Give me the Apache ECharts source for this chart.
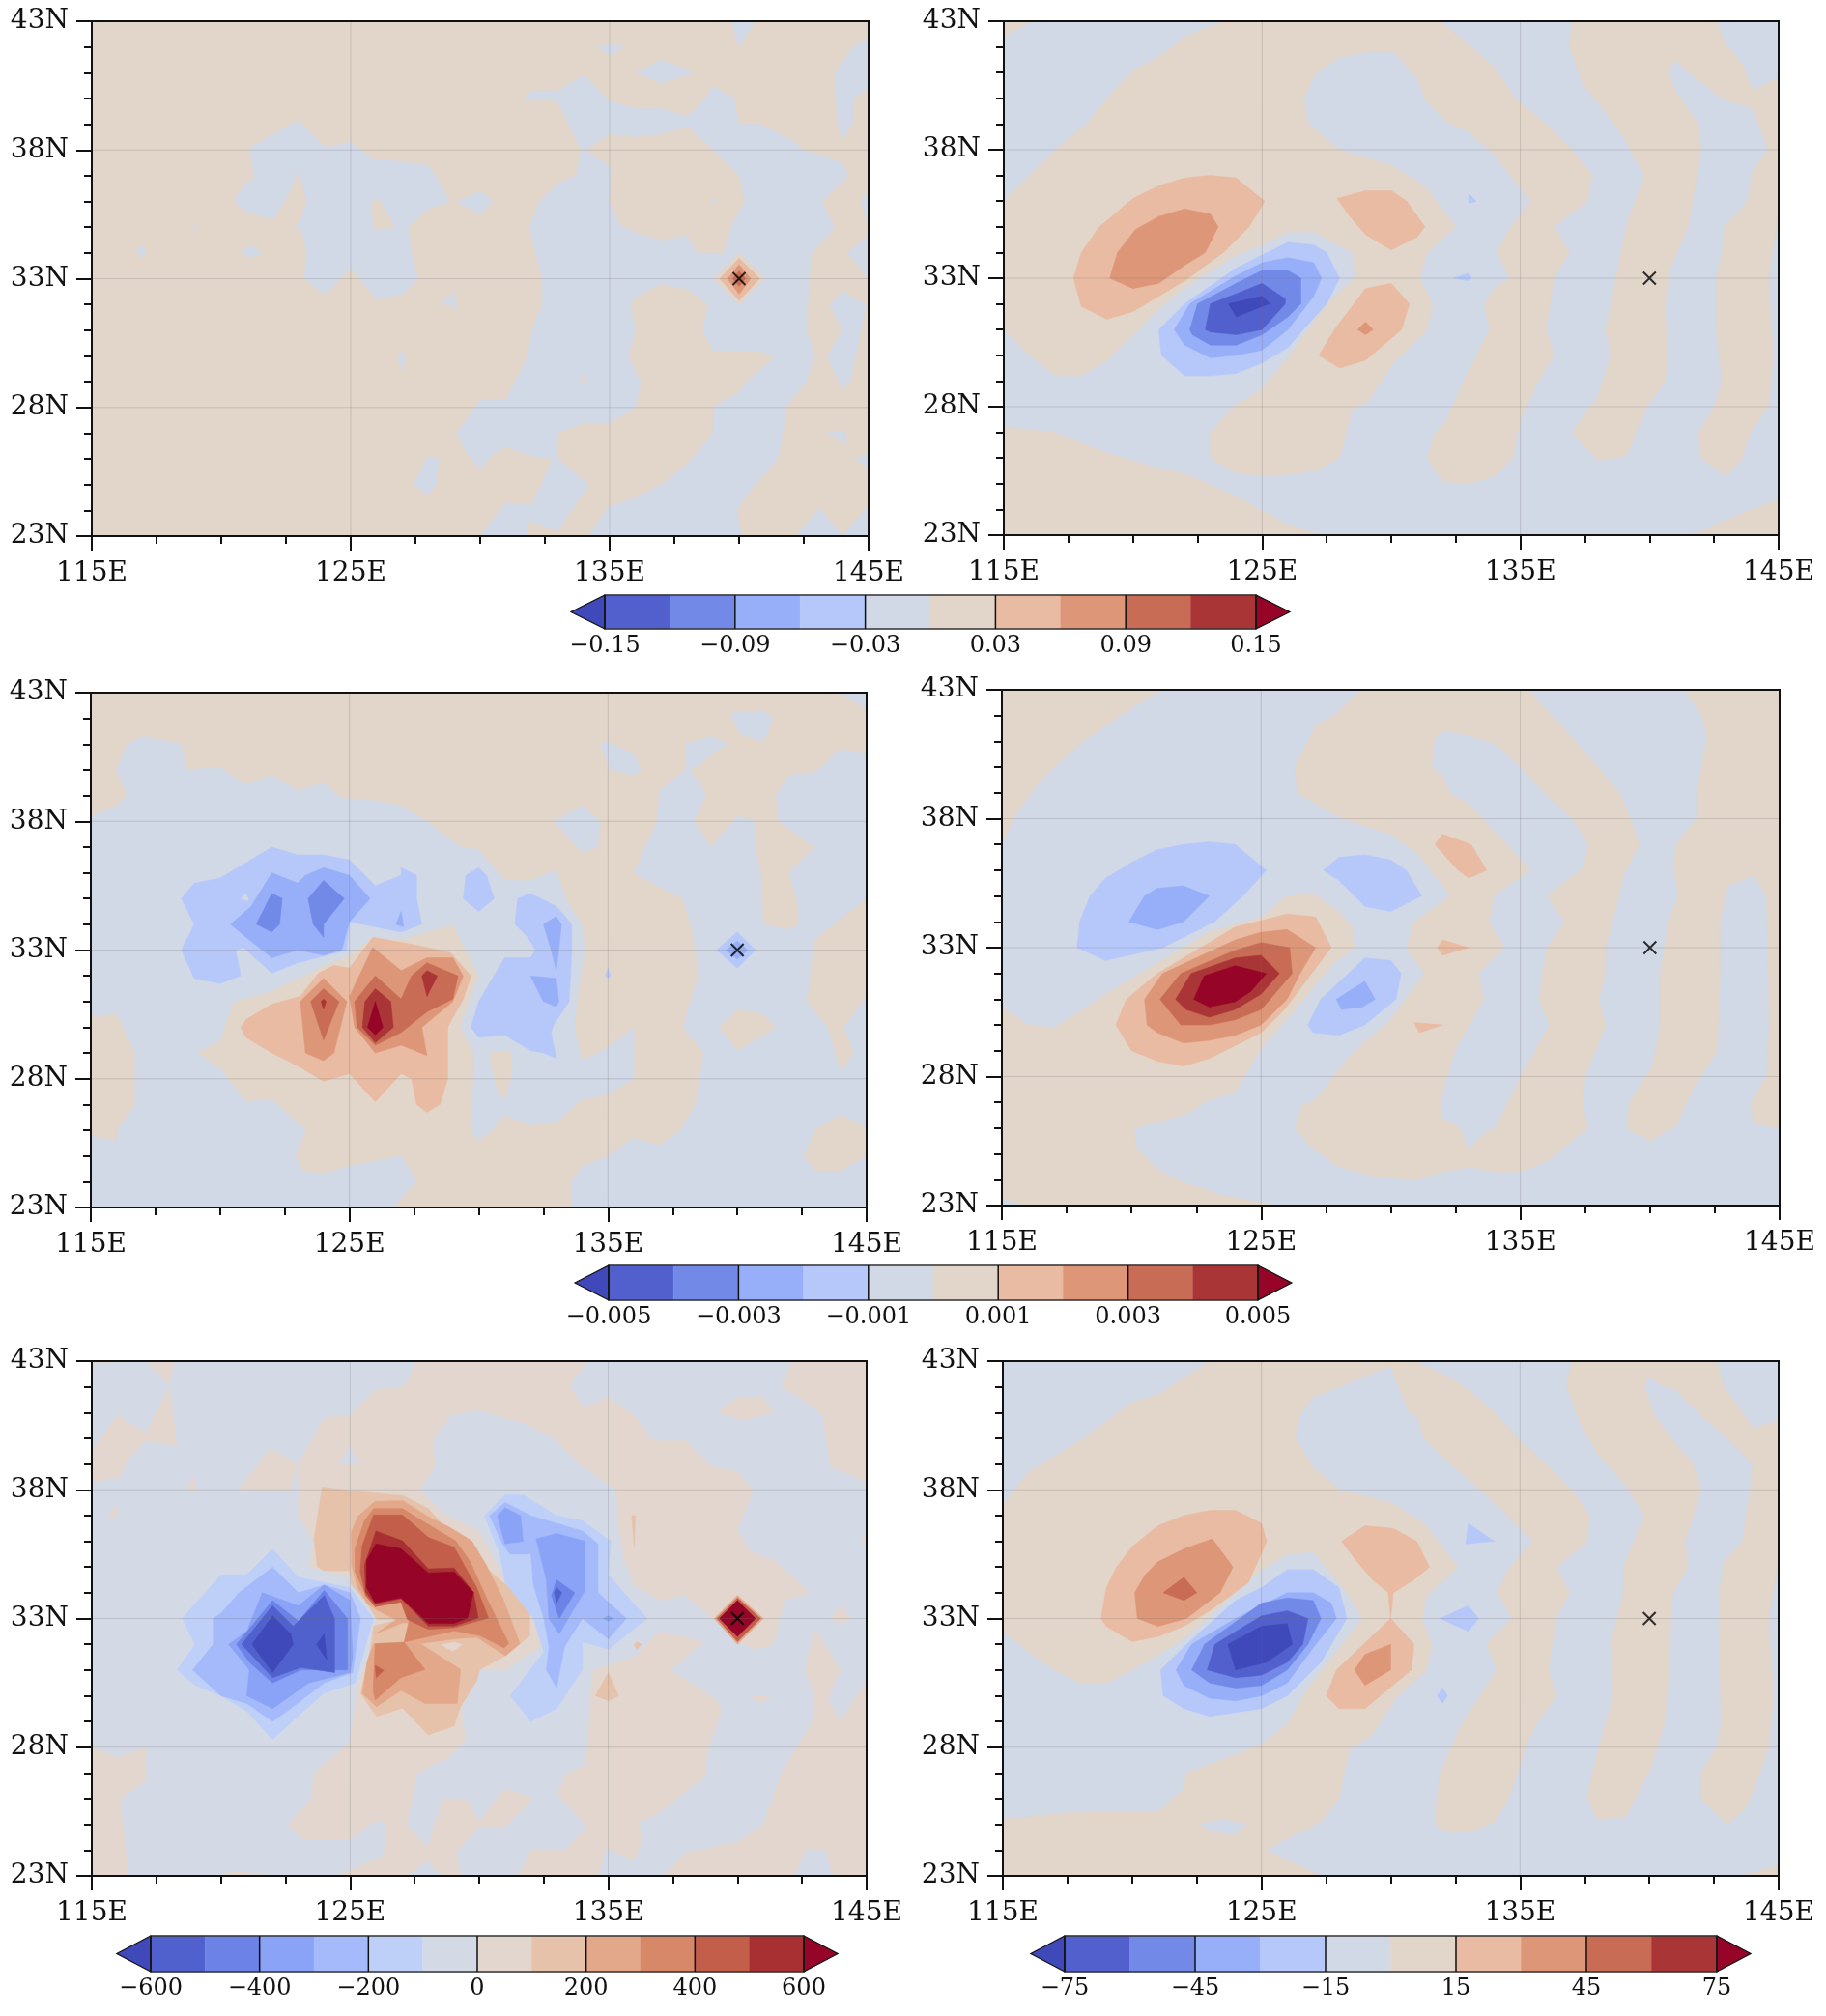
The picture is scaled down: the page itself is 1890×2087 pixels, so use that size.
<!DOCTYPE html>
<html>
<head>
<meta charset="utf-8">
<script src="https://cdn.jsdelivr.net/npm/echarts@6/dist/echarts.min.js"></script>
<style>
html, body { margin: 0; padding: 0; background: #fff; }
#chart { width: 1890px; height: 2087px; }
</style>
</head>
<body>
<div id="chart"></div>
<script>
// tick values of the maps
const lonMajor = [115, 125, 135, 145];
const latMajor = [23, 28, 33, 38, 43];
const markLon = 140;
const markLat = 33;

// colourbar levels and labels
const levels1 = [-0.15, -0.12, -0.09, -0.06, -0.03, 0, 0.03, 0.06, 0.09, 0.12, 0.15];
const ticks1 = [-0.15, -0.09, -0.03, 0.03, 0.09, 0.15];
const levels2 = [-0.005, -0.004, -0.003, -0.002, -0.001, 0, 0.001, 0.002, 0.003, 0.004, 0.005];
const ticks2 = [-0.005, -0.003, -0.001, 0.001, 0.003, 0.005];
const levels3 = [-600, -500, -400, -300, -200, -100, 0, 100, 200, 300, 400, 500, 600];
const ticks3 = [-600, -400, -200, 0, 200, 400, 600];
const levels4 = [-75, -60, -45, -30, -15, 0, 15, 30, 45, 60, 75];
const ticks4 = [-75, -45, -15, 15, 45, 75];

// filled contour colours, first and last are the two extend ends
const colours10 = ['#4049b9', '#5260ce', '#7389e8', '#97aef8', '#b6c8fa', '#d1d8e6', '#e2d5c9', '#e9bba2', '#dd9678', '#c86c55', '#aa3537', '#960527'];
const colours12 = ['#4049b9', '#5060cc', '#6d82e6', '#8aa3f6', '#a5bafb', '#bfd0f8', '#d3dae6', '#e2d6ce', '#e7c2aa', '#e3a88a', '#d68868', '#c25e4a', '#a83032', '#960527'];

// contour bands: colour index, then lon,lat pairs
const panel1Rings = [
    [6, 115,23, 145,23, 145,43, 115,43],
    [5, 123,39.15, 121.1,38.1, 121.3,36.9, 120.9,36.7, 120.5,36, 121,35.6, 122,35.3, 122.5,36.1, 123,37.2, 123.3,36, 123,35.1, 122.8,35, 123.1,34.9, 123.3,34, 123.2,33, 124,32.4, 125,33.4, 126,32.2, 127,32.4, 127.6,33, 127.4,33.8, 127.2,35, 128,35.7, 128.8,36, 128.3,37, 128,37.4, 126.5,37.6, 125.9,37.6, 125,38.3, 124,38.1],
    [6, 125.8,36, 126.1,36.1, 126.7,35, 125.9,34.9],
    [5, 129.1,36, 130,36.4, 130.5,36, 130,35.5],
    [5, 118.9,35, 119,35.1, 119.1,35, 119,34.9],
    [5, 116.7,34.1, 117,34.3, 117.1,33.9, 116.9,33.8],
    [5, 120.8,34, 121.1,34.3, 121.6,34, 121.1,33.8],
    [5, 128.5,32, 129,32.5, 129.1,31.8, 128.8,32],
    [5, 126.8,30, 127,30.2, 127.1,29.9, 127,29.4],
    [5, 127.4,25, 128,26.1, 128.4,26, 128.3,25, 128,24.6],
    [5, 139.7,43, 140,42, 140.6,43],
    [5, 134.5,42, 135,42.1, 135.6,42, 135,41.7],
    [5, 136,41, 137,41.5, 138.3,41, 137,40.6],
    [5, 145,42.4, 144.4,42, 143.7,41, 143.8,39.1, 144,38.4, 144.4,39.1, 144.4,40, 145,40.4],
    [5, 131.7,40, 132,40.3, 133,40.3, 134,40.9, 135,39.9, 136,39.6, 137,39.6, 138,39.3, 138.7,40, 139,40.5, 139.8,40, 140,39, 140.8,39, 142,38.4, 142.5,38, 144,37.5, 144.2,37, 143.2,36, 143.7,35, 142.8,34, 142.7,33, 142.6,31, 142.9,30, 142.6,29, 141.8,28, 141.7,27, 141.5,26, 140.6,25, 139.9,24, 140.1,23, 134.2,23, 134.9,24.1, 136,24.5, 137,25, 138,25.8, 139,27, 139,28, 140,28.6, 140.3,29, 141.4,30, 140.7,30.2, 139,30.2, 138.6,31, 138.8,32, 138,32.6, 137,32.8, 136,32.3, 135.8,32, 136,31, 135.7,30, 136.2,29, 136,28, 135,27.4, 134,27.4, 133,27, 133,26, 134.2,25, 133,23.2, 131.8,23.6, 131.8,23, 130,23, 131,24.3, 132,24.2, 132.8,26, 132,26.1, 131,26.5, 130.4,26.1, 130,25.6, 129.5,26.2, 129.1,27, 130,28.3, 131,28.3, 131.8,29.9, 132,31, 132.4,32, 132.4,33, 131.9,35, 132.3,36, 133,36.7, 133.7,37, 133.9,38, 133,39.9],
    [6, 134.1,38, 135,38.6, 136,38.5, 137,38.6, 138,38.9, 139,38, 140,37, 140.2,36, 139.7,35.1, 139.4,34, 138.9,34, 138.4,34, 138,34.7, 137,34.5, 136,34.8, 135.4,35.1, 135,36, 135.1,37.3],
    [5, 138.9,36, 139,36.15, 139.1,36, 139,35.9],
    [6, 133.9,29, 134,29.3, 134.1,29, 134,28.9],
    [5, 143.5,32, 144,32.5, 144.9,32, 144.3,29, 144,28.7, 143.4,30, 144,31],
    [5, 144.2,34, 145,34.7, 145,33],
    [5, 144.7,36, 145,36.4, 145,35],
    [5, 143.3,27, 144.1,27.1, 144.1,26.5, 143.7,26.9],
    [5, 144.5,26, 145,26.2, 145,25.6],
    [5, 142.2,23, 143.1,24.1, 144,23, 145,24.2, 145,23],
    [6, 139,33, 140,34, 141,33, 140,32],
    [7, 139.25,33, 140,33.8, 140.8,33, 140,32.15],
    [8, 139.55,33, 140,33.55, 140.45,33, 140,32.4],
    [9, 139.75,33, 140,33.3, 140.25,33, 140,32.7]
];

const panel2Rings = [
    [5, 115,23, 145,23, 145,43, 115,43],
    [6, 115,43, 116.1,43, 115,42.4],
    [6, 115,36, 117,38, 118.2,39, 119,40, 120,41.1, 121,41.6, 122,42.4, 123.5,43, 131.9,43, 133.1,42, 134,41.2, 134.8,40, 136,39, 137,38, 137.8,37, 137.6,36, 136.3,35, 136.9,34, 136.3,33, 136,31, 136.3,30, 135.7,29, 135,27.5, 134.7,26, 134,25.3, 133,25, 132,25.1, 131.4,26, 131.7,27, 132.1,27.4, 132.8,29, 133.8,31, 133.6,32, 134,32.6, 134.6,33, 134.1,34, 134.5,34.8, 135.4,36, 134,37.8, 133,38.7, 132.1,39.1, 131.3,40, 131,40.8, 130.1,41.8, 129.1,41.8, 128,41.6, 127.1,41, 126.6,40, 126.8,39, 128,38, 130,37.4, 131.3,36.6, 132.5,35, 131.4,34, 131.1,33, 131.6,32, 131.4,31, 130,29.6, 129.1,28.2, 128.5,27.9, 128,26, 127.1,25.5, 125.5,25.3, 124,25.4, 123,26, 123,27, 123.9,28, 125,28.7, 126,29.9, 127.5,32, 128.6,33, 128.5,34, 127,34.8, 126,34.8, 125,34.3, 124,33.9, 122.1,32.7, 121,31.8, 120,30.8, 119,29.8, 118,29.2, 117,29.2, 116,30, 115,31],
    [6, 137,43, 142.6,43, 142.9,42.2, 143.6,41.3, 144,40.3, 145,40.8, 145,35.5, 144.6,33, 144.8,30, 144.6,28, 143.9,27, 143.6,26, 143,25.3, 142,26, 141.9,27, 142.5,28, 142.8,29, 142.7,30, 142.6,31, 142.6,33, 142.8,34, 142.9,35, 143.8,36, 144,37.2, 144.6,38, 144,39.6, 142.8,40, 141.9,40.7, 141,41.5, 140.7,41, 141,40.3, 141.9,39, 142,38, 141.5,35, 140.8,33.4, 140.6,31.9, 140.7,30, 140.6,29, 139.9,28, 139.1,26.1, 138,25.9, 137,27, 138,28.4, 138.5,30, 138.3,31, 138.9,34, 139.1,35, 139.8,37, 139,38.5, 138.1,39.7, 137.4,40.6, 136.9,42],
    [6, 115,27.2, 117,27, 119,26.2, 121,25.6, 122,25.4, 124,24.5, 126,23.4, 127.3,23, 115,23],
    [6, 141.7,23, 143,23.6, 145,24.4, 145,23],
    [7, 117.7,33, 118,34, 118.7,35, 120,36.1, 121,36.6, 122,36.9, 123,37, 124,36.9, 125.1,36, 124.5,35, 123.5,34, 122,32.9, 120,31.7, 119,31.4, 118,31.9],
    [8, 119.1,33, 119.4,34, 120.1,34.9, 121,35.4, 122,35.7, 123,35.5, 123.3,35, 122.8,34, 122,33.5, 121,32.8, 120,32.6],
    [7, 127.9,36.1, 129,36.4, 130,36.4, 130.6,36, 131.3,35, 131,34.6, 130,34.1, 129,34.7, 128.4,35.4],
    [7, 127.2,30, 127.8,31, 129,32.6, 130,32.8, 130.7,32, 130.4,31, 129,29.8, 128,29.5],
    [8, 128.7,31, 129,31.3, 129.3,31, 129,30.8],
    [4, 121,31, 122,32, 124,33.4, 126,34.4, 127,34.3, 127.5,34, 128,33, 127.5,32, 126.6,31, 126,30.3, 125,29.7, 124,29.3, 123,29.2, 122,29.2, 121.1,30],
    [3, 121.6,31, 122.2,32, 124,33.1, 125,33.6, 126,33.8, 127,33.6, 127.3,33, 127,32.3, 126,31, 125,30.2, 124,30, 123,29.9, 122,30.4],
    [2, 122.2,31, 122.5,32, 124,32.8, 125,33.3, 126,33.3, 126.5,33, 126.5,32, 126,31.5, 125,30.8, 124,30.4, 123,30.4, 122.3,30.8],
    [1, 122.8,31, 123,32, 124,32.4, 125,32.8, 125.9,32.2, 125.9,32, 125,31, 124,30.8, 123,30.9],
    [0, 123.7,32, 125,32.3, 125.3,32, 125,31.9, 124,31.5],
    [4, 133,36.3, 133.3,36, 133,35.9],
    [4, 132.4,33, 133,33.2, 133.1,33, 133,32.9]
];

const panel3Rings = [
    [6, 115,23, 145,23, 145,43, 115,43],
    [5, 115,38.2, 116,38.6, 116.4,39, 116,40, 116.4,41, 117,41.3, 118.5,41, 118.7,40, 120,40.1, 121,39.4, 122,39.8, 123,39.2, 124,39.5, 124.7,38.9, 126,38.8, 127,38.6, 128,38, 129.3,37, 130,36.9, 131,35.7, 132,35.7, 133,36.1, 133.4,34.9, 134,34, 134.1,33, 133.8,31, 133.7,30, 134,28.7, 135,29.2, 136,30, 136,28, 135,27.4, 134,27.2, 133,26.3, 132,26.2, 131,26.6, 130.5,26, 130,25.6, 129.7,26, 129.8,28, 129.8,29, 129.3,30, 130,32, 129,34, 127,33.4, 125.9,33.5, 125,32.8, 124,32.4, 123,31.9, 122,31.4, 120.5,31, 120,29.5, 119.1,29, 120,28.4, 121,27.1, 122,27.2, 123.3,26, 122.9,25, 123.2,24.4, 124,24.3, 125,24.6, 127,25, 127.6,24, 126.7,23, 115,23],
    [5, 137,39.2, 138,40, 138,41, 139,41.3, 139.6,41, 138.2,40, 138.8,39, 138.3,38, 139,37, 140,38.2, 140.7,38, 140.7,37, 140.9,36, 141,34, 142,33.8, 142.4,34, 142.3,35, 142,36, 143,37, 141.6,38, 141.5,39, 142,39.8, 143,39.9, 144,40.8, 145,40.6, 145,23, 133.6,23, 133.6,24, 134,24.6, 135,25, 136,25.7, 137,25.4, 137.8,26, 138.4,27, 138.7,29, 137.9,30, 138.5,32, 138.3,33.6, 137.9,35, 136.9,35.5, 136,36, 136.9,38],
    [6, 115,30.4, 116,30.5, 116.7,29, 116.7,27, 116,26, 116,25.6, 115,25.8],
    [6, 130.4,29, 131.2,29.1, 131.3,28.3, 131,27.2, 130.7,27.6],
    [6, 139.3,30, 140,30.7, 141,30.5, 141.5,30, 140,29.1],
    [6, 145,35, 143,33.4, 142.9,32.7, 142.7,31, 143.5,30, 144,28.3, 144.5,29, 144.1,30, 145,31.2],
    [6, 142.6,25, 143,26, 144,26.6, 145,26.1, 145,25, 143.9,24.4, 143,24.4],
    [5, 143.9,43, 145,43, 145,42.4],
    [5, 139.7,42.2, 141,42.3, 141.4,42, 141,41.1, 140.1,41.4],
    [5, 134.7,41, 135,41.1, 136,40.6, 136.3,40, 136,39.8, 135.1,40],
    [5, 132.9,38, 134,38.6, 134.7,38, 134.6,37, 134,36.8],
    [4, 134.9,32, 135,32.3, 135.1,32, 135,31.9],
    [4, 118.5,35, 119,35.6, 120,35.8, 121,36.4, 122,37, 123,36.7, 124,36.7, 125,36.5, 126,35.5, 127,35.9, 127,36.2, 127.6,35.9, 127.6,35, 127.8,34, 127,33.7, 126,33.9, 125,34.1, 124.9,33, 123,32.5, 122,32.1, 120.9,33.1, 120.6,33, 120.8,32, 120,31.7, 119,31.9, 118.5,33, 119,34],
    [5, 120.8,35, 121,35.2, 121.1,34.9],
    [3, 120.4,34, 121.2,34.7, 122,36, 123,35.6, 123.3,35.9, 124,36.2, 125,35.9, 125.8,35, 125,34.1, 124.7,33, 124,32.8, 123,33, 122,32.7, 121,33.5],
    [2, 121.4,34, 122,35.2, 122.4,35, 122.3,34, 122,33.7],
    [2, 123.4,35, 124,35.7, 124.8,35, 124,34, 124,33.5, 123.6,34],
    [3, 126.8,34, 127,34.5, 127.1,33.9],
    [4, 129.4,35, 129.5,35.9, 130,36.2, 130.3,35.9, 130.6,35, 130,34.5],
    [4, 131.4,34, 131.5,35, 132,35.2, 133,34.7, 133.6,34, 133.6,33, 133.5,31, 132.9,30.1, 132.8,29.8, 133,28.8, 132.5,29, 132,29.1, 131,29.7, 130,29.6, 129.7,30, 130,31, 131,32.7, 132,32.7, 132.2,33, 131.9,33.5],
    [3, 132.5,34, 133,34.3, 133.2,34, 133.1,33, 133,32.2, 132.8,33],
    [3, 132,32, 133,31.9, 133.1,31, 133,30.8, 132.5,31],
    [7, 120.8,30, 121,30.3, 122,30.9, 123.1,31.2, 123.8,32.1, 124.4,32.4, 125,32.3, 125.9,33.5, 127,33.3, 128,33.1, 128.9,32.9, 129.7,32, 129.4,31.1, 128.8,30, 128.8,28, 128.5,27, 128,26.7, 127.6,27, 127.4,28, 127,28.2, 126,27.1, 125,28.2, 124,27.9, 123,28.5, 122,29, 121,29.6],
    [8, 123.1,31, 124,31.9, 124.9,31, 124.4,29, 124,28.7, 123.3,29],
    [8, 125,31.2, 125.9,33.1, 127,32.2, 128,32.7, 129,32.7, 129.4,32, 129,31, 127.8,30, 128,28.9, 127,29.3, 126,29, 125.2,30],
    [9, 123.5,31, 124,31.5, 124.6,31, 124,29.5],
    [9, 125.2,31, 126,32, 127,31.1, 127.4,32, 128,32.5, 129.2,32, 129,31.1, 128,30.6, 127,29.8, 126,29.3, 125.3,30],
    [10, 123.9,31, 124,31.1, 124.1,31, 124,30.7],
    [10, 125.6,31, 126,31.5, 126.6,31, 126.7,30, 126,29.4, 125.5,30],
    [11, 125.7,30, 126,31, 126.3,30, 126,29.7],
    [10, 127.8,32, 128,32.2, 128.4,32, 128,31.2],
    [4, 139.2,33, 140,33.7, 140.7,33, 140,32.3],
    [3, 139.55,33, 140,33.35, 140.4,33, 140,32.65]
];

const panel4Rings = [
    [5, 115,23, 145,23, 145,43, 115,43],
    [6, 115,43, 121.2,43, 120,42.3, 118,40.9, 116.5,39.5, 115.5,38.1, 115,37, 115,30.7, 116,30, 117,29.9, 118,30.5, 119,31.2, 121,32.4, 123,33.6, 125,34.2, 126,35, 127,35.1, 128,34.4, 128.5,33.8, 128.6,33, 127.8,32.4, 126.4,30.7, 125,29.1, 124,27.4, 123,27.1, 122,26.5, 120.1,26, 120.2,25.2, 121,24.4, 122,23.9, 123.5,23.4, 125.6,23, 115.9,23, 115,23.3],
    [6, 128.9,43, 135.3,43, 136.5,41.7, 138,40, 138.9,38.9, 139.6,37, 139,35.9, 138.8,35, 138.3,33, 138.3,32, 138,31, 138.3,30, 137.5,28, 137.4,27, 137.6,26, 136,24.7, 135,24.3, 134,24.3, 133,24.5, 132,24.3, 131,24, 129.5,24.1, 128,24.5, 126.9,25.3, 126.3,26, 126.6,26.9, 127.1,27.1, 128.5,28.9, 130,30.2, 131.3,32, 130.6,33, 130.9,34, 132.3,35, 131.1,36.6, 130,37.4, 128.1,38, 126.4,39, 126.3,40, 127.1,41.6, 127.8,42],
    [5, 131.7,41.1, 132,41.4, 133,41.2, 134,40.9, 135,40, 136,38.9, 137,38, 137.6,37, 137.4,36.1, 136,35, 136.7,34, 136,33, 135.7,31, 136.1,30, 135,28, 134,26, 133.7,25.9, 133,25.2, 132.7,26, 132,26.4, 131.9,27, 132.5,29, 133.6,31, 133.4,32, 134.4,33, 133.8,34, 134,35, 135.4,36, 134.5,37, 133,38.6, 132.3,39, 132,39.7, 131.6,40],
    [6, 141.3,43, 142,42, 142.2,41.1, 141.8,39, 141.8,38, 141,37, 140.9,36.1, 141.1,35, 140.7,34, 140.4,32, 140.4,30, 140.1,28.4, 139.2,27, 139.1,26, 140,25.5, 141,26.1, 141.7,27.6, 142.6,29, 142.7,32, 142.7,34, 143,35.4, 144,35.8, 144.5,35, 144.6,30, 144.5,28, 143.9,27, 144,26.2, 145,26, 145,43],
    [7, 119.4,30, 119.8,31, 121,32, 124,33.8, 126,34.3, 127.1,34.2, 127.7,33, 126.8,31.8, 125.9,30.6, 125,29.7, 124,29.2, 123,28.7, 122,28.4, 121,28.6, 120,29],
    [8, 120.5,31, 121.2,32, 124,33.3, 125,33.6, 126,33.7, 127.1,33, 126.5,32, 126,31, 125,30, 124,29.6, 123,29.4, 122,29.3, 121,29.7, 120.6,30],
    [9, 121.1,31, 121.9,32, 124,32.9, 125,33.2, 126.1,33, 126.2,32, 125,30.6, 124,30.2, 123,30, 121.9,30],
    [10, 121.7,31, 122.3,32, 124,32.6, 125,32.7, 125.7,32, 125,31.2, 124,30.6, 123,30.3, 122.1,30.6],
    [11, 122.4,31, 122.8,31.9, 124,32.3, 125.2,32, 124.6,31.3, 124,30.9, 123,30.7],
    [4, 117.9,33, 118,34, 118.4,35, 119,35.7, 120,36.3, 121,36.8, 122,37, 123,37.1, 124,37, 125.2,36, 124.3,35, 123.2,34, 121.2,33, 119,32.5],
    [3, 119.9,34, 120.5,35, 121,35.3, 122,35.4, 123,35, 122,34, 121,33.7],
    [4, 127.4,36, 128,36.5, 129,36.6, 130,36.4, 130.6,36, 131.2,35, 130,34.4, 129,34.6, 128,35.6],
    [4, 126.8,30, 127.3,31, 129,32.6, 130,32.5, 130.4,32, 130.2,31, 129,30, 128,29.6, 127,29.7],
    [3, 127.9,31, 129,31.7, 129.4,31, 128.9,30.7, 128.1,30.6],
    [7, 131.7,37, 132,37.4, 133.1,37, 133.7,36, 133,35.7, 132.6,36],
    [7, 131.8,33, 132,33.3, 133,33, 132,32.7],
    [7, 130.9,30.1, 132,30, 131.1,29.7]
];

const panel5Rings = [
    [6, 115,23, 145,23, 145,43, 115,43],
    [7, 115,42.9, 115,43, 116.5,43],
    [7, 117.1,43, 118.2,43, 118,42.1],
    [7, 115,39.5, 116,40.9, 117.1,40.2, 118,42, 118.3,39.7, 117.1,39.9, 116.4,39.2, 116.1,38.5, 115,38.3],
    [7, 120.7,38, 121.9,39.6, 123,39, 122.7,38],
    [7, 118.7,38, 118.9,38.5, 119.1,38],
    [7, 115.6,37, 116,37.4, 116,36.9],
    [7, 115,28, 116,27.6, 117.1,28, 117.1,26.7, 116.1,26, 116.3,24.2, 116.4,23, 115,23],
    [7, 119.9,23, 120.5,23.2, 122,23],
    [7, 127.6,43, 134.2,43, 133.5,42.05, 134.05,41.2, 135,41.6, 136.1,40.8, 136.7,39.9, 138,39.9, 139,38.9, 140,38.7, 140.6,38, 140,36.4, 140.5,35.6, 141.5,35.2, 142.8,34, 141.8,33.7, 141.4,32, 140.7,31.8, 140,32.1, 139.4,32.9, 139,33, 138,33.9, 137,33.7, 136,34.3, 135.6,35.4, 135.4,36.5, 135.3,38, 134,38.9, 132.9,40, 131.7,40.6, 130,41.1, 128.9,40.9, 128.2,39.9, 128.3,38.9, 127.7,38, 128.6,37.1, 130,36.4, 130.8,34.9, 132.1,33, 132.5,32, 131,31, 130,31, 129.3,29.5, 129.5,28.3, 128.8,27.6, 127.6,27, 127.2,25, 128,24.1, 128.6,26, 129.5,26, 130,25.1, 131,26.4, 132.1,26, 131,24.9, 130,24.9, 129.1,23.9, 129.3,23, 128.6,23, 128,23.6, 127.2,23, 124.5,23, 126.3,23.8, 126.4,25.1, 125.9,25.1, 125,24.4, 123.2,24.4, 122.6,25, 123.5,26, 123.6,27, 125,28.2, 125.3,30.4, 125.9,32, 126,33, 125.5,33.9, 125,34.6, 123.4,35, 123.6,36, 123,37, 123,39, 124,40.8, 125,40.9, 126,41.9, 127.1,42],
    [6, 124.6,39, 125,39.7, 125.3,39],
    [7, 134.3,30, 134.4,31, 136,31.5, 137,32.5, 138.7,32.1, 137.4,31, 139,30, 139.4,29.5, 138.8,27.7, 138.8,26.9, 136.9,25.4, 136.2,25.1, 136.3,24.3, 136,23.6, 134.9,24.1, 134.6,23, 131.5,23, 132,24, 133.3,24, 134.2,24.9, 133,26.2, 133.4,27, 134.1,27.3, 134.2,28],
    [7, 137.1,23, 138,23.9, 140,24.3, 141,25, 141.7,27, 142.9,29, 143,30, 142.6,31, 143,32.6, 144,31, 143.5,29.9, 144,29, 144.6,30, 145,30.5, 145,23],
    [6, 142.2,23, 142.7,24, 143.4,24, 143.7,23],
    [7, 141.7,42, 142.1,43, 145,43, 145,38.3, 143.6,38.9, 143.3,40.9, 142.4,41.6],
    [7, 139.2,41, 140,41.6, 141,41.6, 141.4,41, 140.3,40.7],
    [7, 143.6,33, 144,33.5, 144.4,33, 144,32.8],
    [7, 140.5,30, 141.3,30, 140.9,29.7],
    [7, 144.7,36, 145,36.2, 145,35.9],
    [8, 135.9,37, 136.05,37, 136,35.8],
    [8, 134.5,30, 135,30.9, 135.4,30, 135,29.8],
    [8, 136,32, 136.1,32.1, 136.3,32, 136.1,31.8],
    [5, 118.5,33, 120,34.7, 121,34.7, 122,35.7, 123,34.6, 124,34.4, 125,34.2, 125.9,33, 125.2,30.5, 124,30.1, 123.2,29.4, 122,28.3, 121,29.4, 120,30, 119,30.4, 118.3,31, 119,32],
    [4, 118.9,31, 119.7,32, 119.7,33, 120,33.2, 120.7,34, 122,35, 123,34, 124,34.3, 125,34, 125.4,33, 125.1,30.9, 124,30.5, 122.7,29.5, 122,29, 121,29.7, 120,30],
    [3, 120.3,32, 121,32.5, 121.2,33, 121.6,34, 123,33.5, 124,34.3, 125,33.7, 125.1,31.5, 125,30.9, 123.4,30.5, 122,29.5, 121,30, 121.1,31],
    [2, 120.6,32, 122,33.7, 123,32.9, 124,34.1, 124.9,33, 124.9,31, 123.1,31, 122,30.5, 121.1,31.3],
    [1, 120.8,32, 122,33.5, 122.8,32.7, 124,33.9, 124.4,33, 124.4,30.9, 123.1,31.1, 122,30.7],
    [0, 121.2,32, 122,33.1, 122.7,32.4, 122.8,32, 122,30.9],
    [0, 123.7,32, 124,32.4, 124.1,31.4],
    [8, 123.92,38.11, 125,37.96, 127.06,37.77, 128.03,37.27, 128.53,36.71, 129.65,36.02, 130.03,35.21, 130.84,34.46, 131.96,33.64, 131.96,32.33, 131.02,31.56, 130.03,31.02, 129.9,30.58, 129.28,29.58, 129.03,28.83, 128.03,28.48, 127.03,29.52, 126.03,29.2, 125.41,30.08, 125.79,31.83, 125.91,32.71, 126.91,32.96, 126.03,32.96, 125.66,33.58, 125.04,34.33, 125,34.86, 123.98,34.86, 123.73,35.02, 123.6,36.08],
    [7, 128.53,31.98, 129.03,32.08, 129.34,31.98, 128.97,31.73],
    [9, 125.04,36.33, 125.29,36.96, 125.97,37.55, 127.03,37.58, 128.03,36.96, 128.9,36.52, 129.71,36.02, 130.27,35.08, 130.9,33.83, 131.58,32.02, 131.02,31.56, 129.9,32.27, 129.03,32.2, 127.72,32.02, 127.09,32.02, 127.28,32.83, 127.03,32.83, 125.97,32.4, 126.78,32.95, 126.03,33.33, 125.66,33.58, 125.29,34.21, 125.06,35.08],
    [9, 125.91,32.02, 127.09,32.02, 127.72,32.02, 129.28,31.02, 129.15,29.7, 127.9,29.7, 126.97,30.2, 126.03,29.58, 125.47,30.08, 125.66,31.33],
    [10, 125.19,35.71, 125.54,36.77, 125.91,37.27, 127.03,37.27, 128.03,36.65, 129.09,36.02, 129.65,35.21, 130.27,33.83, 131.15,32.02, 130.96,31.86, 130.03,32.33, 129.03,32.52, 127.09,32.08, 127.28,32.9, 126.97,33.64, 125.97,33.46, 125.6,33.9, 125.19,34.83],
    [10, 125.97,32.02, 127.09,32.08, 127.9,31.02, 126.97,30.7, 125.97,29.83, 125.89,30.2],
    [11, 125.97,31.18, 126.31,30.98, 126.01,30.7],
    [11, 125.47,35.83, 125.91,37.02, 127.03,37.02, 128.03,36.15, 129.03,35.77, 129.9,34.21, 130.36,33.02, 129.03,32.64, 128.03,32.58, 127.22,32.96, 126.97,33.64, 125.97,33.46, 125.6,33.9, 125.39,34.83],
    [12, 125.56,35.08, 126,36.4, 127.03,36.02, 128.03,34.93, 129.03,34.96, 129.78,34.02, 129.96,33.02, 129.03,32.71, 128.03,32.71, 126.97,33.77, 125.97,33.56, 125.6,34.02],
    [13, 125.64,35.27, 126,35.9, 126.97,35.71, 128.03,34.77, 129.03,34.81, 129.78,34.02, 129.55,33.02, 129.03,32.81, 128.03,32.81, 126.97,33.81, 125.97,33.61, 125.64,34.21],
    [5, 130.2,37, 131,37.8, 131.7,37.8, 133,37, 134,36.8, 135.1,36, 135,34.7, 135.7,33.9, 136.5,33, 135,31.8, 134,32.1, 134,31, 133,29.5, 132,29, 131.2,30, 132.5,31.7, 132.1,33, 131,34.4, 130.8,35.5],
    [4, 130.4,37, 131,37.5, 132,37, 134,36.4, 134.6,35.9, 134.6,34, 135.7,33, 135,32.2, 134,33, 133.3,31.9, 133,30.3, 132.6,31, 132.7,31.9, 132.5,33, 132.1,34.3, 132,35.5, 131.2,35.5, 130.9,35.9],
    [3, 130.7,37, 131,37.3, 131.6,37, 131.7,36, 131,35.9],
    [3, 132.2,36.1, 133,36.3, 134.1,36, 134.1,34.1, 133.1,32.4, 132.7,33, 132.6,34.5],
    [2, 132.8,33.9, 133,34.5, 133.7,34, 133.1,33],
    [1, 132.9,34, 133,34.2, 133.2,34, 133,33.6],
    [3, 134.8,33, 135,33.1, 135.2,33, 135,32.9],
    [9, 139.1,33, 140,33.9, 141,33, 140,32],
    [11, 139.2,33, 140,33.8, 140.9,33, 140,32.1],
    [13, 139.3,33, 140,33.7, 140.7,33, 140,32.3]
];

const panel6Rings = [
    [5, 115,23, 145,23, 145,43, 115,43],
    [6, 115,37.4, 116,38.7, 118,39.9, 120,41.4, 121,41.7, 123,43, 130.9,43, 132.2,42.4, 133,41.9, 134,41, 135,39.9, 136,39, 137,38, 137.7,37, 137.6,36, 136.4,35, 136.9,34, 136.4,33, 136.1,31, 136.4,30, 135.5,28.7, 134.9,27, 134.5,25.9, 134,25.1, 133,24.7, 131.9,24.8, 131.7,25.1, 131.9,27, 132.8,29, 134.1,31, 133.7,32, 134.7,33, 134.1,34, 134.6,35, 135.5,36, 134,37.5, 133,38.4, 132.3,39, 131.3,40, 131,40.9, 130.7,41, 130,42.8, 127,41.6, 126.5,40.9, 126.3,40, 127,38.9, 128,38, 130,37.5, 131.3,36.7, 132.6,35, 131.4,33.9, 131.2,33, 131.6,32, 131.4,31, 130.2,29.9, 129.3,28.5, 128.4,27.9, 128,26, 127.3,25.1, 125.9,24.4, 125.2,24, 127.3,23, 115,23, 115,25.2, 118,25.5, 121,25.5, 122,26.4, 122.1,27, 123.2,27.4, 125,28.1, 126,28.9, 126.8,30.3, 128.9,33, 128.3,34, 127,35.6, 126,35.5, 125,34.9, 124,34, 122,32.2, 120,31, 119,30.5, 118,30.5, 117,31, 116,31.7, 115,32.5],
    [5, 122.6,25, 123.5,25.2, 124.4,25, 124,24.6, 123.2,24.7],
    [6, 137,43, 142.6,43, 142.9,42, 143.6,41, 144,40.4, 145,40.7, 145,35.3, 144.6,33, 144.8,30, 144.6,27.9, 143.9,26, 143.7,25.6, 143,25, 142,26, 142,27, 142.6,28, 142.8,29, 142.7,31, 142.7,33, 142.7,34, 142.9,35.2, 143.6,36, 143.9,38, 144,39, 143,40, 142,40.9, 141,41.9, 140.4,42.1, 140,42.4, 139.8,42, 140.2,40.9, 141,39.8, 141.7,39, 142,38, 141.4,36, 141.5,35, 140.9,34, 140.8,32, 140.7,30, 140.6,29, 140.1,27.3, 139.1,25.3, 138,25.2, 137.6,26, 137.8,27, 138.3,28.9, 138.6,30, 138.5,32, 139,34, 139,35, 139.8,37, 139,38.3, 138,39.4, 137.4,40.4, 136.8,42],
    [6, 143.5,23, 145,23.4, 145,23],
    [7, 118.8,33, 119,34.2, 119.4,35, 120,35.8, 121,36.6, 122,37, 123,37.2, 124,37.2, 125,36.7, 125.2,36, 124.5,34.4, 123,33.3, 122,32.7, 121,32.3, 120,32.1, 119,32.7],
    [8, 120.1,34, 120.5,34.7, 121,35.2, 122,35.7, 123.1,36.1, 123.9,35, 123.4,34, 122.1,33, 121,32.7, 120.2,33],
    [9, 121.2,34, 122,34.6, 122.5,34, 122,33.7],
    [7, 128.1,36, 129,36.6, 130.1,36.5, 131,36, 131.5,35, 130.9,34.5, 130.1,34, 130,33, 129.9,34, 129.3,34.5, 128.7,35.2],
    [7, 127.5,30, 127.9,31, 130,33, 130.9,32, 130.8,31, 129,29.5, 128,29.5],
    [8, 128.6,31, 129,31.6, 130,32, 130,31, 129,30.4],
    [4, 121.1,31, 122,31.9, 124,33.7, 125,34.2, 126,34.9, 127,34.9, 128,34.2, 128.3,33, 127.3,31.3, 126,30, 125,29.5, 123,29.2, 122,29.5, 121.2,30],
    [3, 121.7,31, 122.3,32, 124,33, 126,34, 127,34, 127.7,33.6, 127.9,33, 127.1,32, 126,30.5, 125,30, 124,29.8, 123,29.9, 122,30.4],
    [2, 122.3,31, 122.8,32, 125,33.6, 126,33.8, 127,33.7, 127.3,33, 126.8,32, 126,31, 125,30.4, 124,30.3, 123,30.5],
    [1, 122.9,31, 123.2,32, 125,33.1, 126,33.3, 126.8,33, 126.6,32, 126,31.3, 125,30.8, 124,30.7],
    [0, 123.7,32, 125,32.7, 126,32.8, 126.2,32, 125.2,31.3, 124,31],
    [4, 132.9,35.9, 133,36.7, 134,36],
    [4, 131.9,33, 133,33.5, 133.4,33, 133,32.5],
    [4, 131.8,30, 132,30.3, 132.2,30, 132,29.7]
];

// which arrays go in which panel, left to right, top to bottom
const panelRings = [panel1Rings, panel2Rings, panel3Rings, panel4Rings, panel5Rings, panel6Rings];
const panelColours = [colours10, colours10, colours10, colours10, colours12, colours10];

// plot boxes in page pixels: left, top, right, bottom
const panelBoxes = [
    [95, 22, 899, 555],
    [1039, 22, 1841, 554],
    [94, 717, 897, 1250],
    [1037, 714, 1842, 1248],
    [95, 1409, 897, 1942],
    [1038, 1409, 1841, 1942]
];

const barList = [
    { box: [626, 616, 1300, 651], levels: levels1, ticks: ticks1, colours: colours10, decimals: 2 },
    { box: [630, 1310, 1302, 1346], levels: levels2, ticks: ticks2, colours: colours10, decimals: 3 },
    { box: [156, 2004, 832, 2041], levels: levels3, ticks: ticks3, colours: colours12, decimals: 0 },
    { box: [1102, 2004, 1777, 2041], levels: levels4, ticks: ticks4, colours: colours10, decimals: 0 }
];

const labelFont = '"DejaVu Serif"';
const inkColour = '#111';

let grids = [];
let xAxes = [];
let yAxes = [];
let series = [];

function box_to_grid(box)
{
    return { left: box[0], top: box[1], width: box[2] - box[0], height: box[3] - box[1] };
}

function ring_to_points(ring, api)
{
    let points = [];
    for (let i = 1; i < ring.length; i += 2)
    {
        points.push(api.coord([ring[i], ring[i + 1]]));
    }
    return points;
}

function add_map(index)
{
    let rings = panelRings[index];
    let colours = panelColours[index];
    let xMinor = xAxes.length;
    let yMinor = yAxes.length;

    grids.push(box_to_grid(panelBoxes[index]));

    // the short ticks
    xAxes.push({
        type: 'value', gridIndex: index, min: 115, max: 145, interval: 2.5, position: 'bottom',
        axisLine: { show: false },
        axisTick: { length: 8, lineStyle: { color: inkColour, width: 2 } },
        axisLabel: { show: false },
        splitLine: { show: false }
    });
    yAxes.push({
        type: 'value', gridIndex: index, min: 23, max: 43, interval: 1, position: 'left',
        axisLine: { show: false },
        axisTick: { length: 8, lineStyle: { color: inkColour, width: 2 } },
        axisLabel: { show: false },
        splitLine: { show: false }
    });

    // the long ticks and the labels
    xAxes.push({
        type: 'value', gridIndex: index, min: 115, max: 145, interval: 2.5, position: 'bottom',
        axisLine: { show: false },
        axisTick: { length: 15, customValues: lonMajor, lineStyle: { color: inkColour, width: 2 } },
        axisLabel: {
            customValues: lonMajor, margin: 25, fontFamily: labelFont, fontSize: 28, color: inkColour,
            hideOverlap: false, formatter: v => v + 'E'
        },
        splitLine: { show: false }
    });
    yAxes.push({
        type: 'value', gridIndex: index, min: 23, max: 43, interval: 1, position: 'left',
        axisLine: { show: false },
        axisTick: { length: 16, customValues: latMajor, lineStyle: { color: inkColour, width: 2 } },
        axisLabel: {
            customValues: latMajor, margin: 24, fontFamily: labelFont, fontSize: 28, color: inkColour,
            hideOverlap: false, formatter: v => v + 'N'
        },
        splitLine: { show: false }
    });

    series.push({
        type: 'custom', xAxisIndex: xMinor, yAxisIndex: yMinor, silent: true, clip: true, z: 2,
        data: rings.map((r, i) => [i]),
        renderItem: function(params, api) {
            let ring = rings[params.dataIndex];
            let colour = colours[ring[0]];
            return {
                type: 'polygon',
                shape: { points: ring_to_points(ring, api) },
                style: { fill: colour, stroke: colour, lineWidth: 0.5 }
            };
        }
    });

    // thin grid lines lie over the colours, the frame over everything
    let gridLines = [];
    lonMajor.slice(1, -1).forEach(v => gridLines.push([v, 23, v, 43]));
    latMajor.slice(1, -1).forEach(v => gridLines.push([115, v, 145, v]));
    series.push({
        type: 'custom', xAxisIndex: xMinor, yAxisIndex: yMinor, silent: true, z: 3,
        data: gridLines,
        renderItem: function(params, api) {
            let a = api.coord([api.value(0), api.value(1)]);
            let b = api.coord([api.value(2), api.value(3)]);
            return {
                type: 'line',
                shape: { x1: a[0], y1: a[1], x2: b[0], y2: b[1] },
                style: { stroke: 'rgba(110,110,110,0.24)', lineWidth: 1 }
            };
        }
    });
    series.push({
        type: 'custom', xAxisIndex: xMinor, yAxisIndex: yMinor, silent: true, clip: false, z: 5,
        data: [[115, 23, 145, 43]],
        renderItem: function(params, api) {
            let a = api.coord([api.value(0), api.value(1)]);
            let b = api.coord([api.value(2), api.value(3)]);
            return {
                type: 'rect',
                shape: { x: a[0], y: b[1], width: b[0] - a[0], height: a[1] - b[1] },
                style: { fill: 'none', stroke: inkColour, lineWidth: 2 }
            };
        }
    });
    series.push({
        type: 'scatter', xAxisIndex: xMinor, yAxisIndex: yMinor, silent: true, z: 6,
        symbol: 'path://M0 0L10 10M10 0L0 10', symbolSize: 13,
        itemStyle: { color: 'none', borderColor: '#000', borderWidth: 2 },
        data: [[markLon, markLat]]
    });
}

function add_colourbar(bar)
{
    let gridIndex = grids.length;
    let xIndex = xAxes.length;
    let yIndex = yAxes.length;
    let levels = bar.levels;
    let low = levels[0];
    let high = levels[levels.length - 1];
    let tip = (high - low) * 0.052;

    grids.push(box_to_grid(bar.box));
    xAxes.push({
        type: 'value', gridIndex: gridIndex, min: low, max: high, position: 'bottom',
        axisLine: { show: false },
        axisTick: { show: false },
        axisLabel: {
            customValues: bar.ticks, margin: 6, fontFamily: labelFont, fontSize: 24, color: inkColour,
            hideOverlap: false,
            formatter: v => (v < 0 ? '\u2212' : '') + Math.abs(v).toFixed(bar.decimals)
        },
        splitLine: { show: false }
    });
    yAxes.push({ type: 'value', gridIndex: gridIndex, min: 0, max: 1, show: false });

    // one item per band, plus the two pointed ends
    let bands = [];
    for (let i = 0; i < levels.length - 1; i++)
    {
        bands.push([levels[i], levels[i + 1], i + 1]);
    }
    series.push({
        type: 'custom', xAxisIndex: xIndex, yAxisIndex: yIndex, silent: true, clip: false, z: 2,
        data: bands,
        renderItem: function(params, api) {
            let a = api.coord([api.value(0), 0]);
            let b = api.coord([api.value(1), 1]);
            let colour = bar.colours[api.value(2)];
            return {
                type: 'rect',
                shape: { x: a[0], y: b[1], width: b[0] - a[0], height: a[1] - b[1] },
                style: { fill: colour, stroke: colour, lineWidth: 0.5 }
            };
        }
    });
    series.push({
        type: 'custom', xAxisIndex: xIndex, yAxisIndex: yIndex, silent: true, clip: false, z: 3,
        data: [[low, low - tip, 0], [high, high + tip, bar.colours.length - 1]],
        renderItem: function(params, api) {
            return {
                type: 'polygon',
                shape: { points: [
                    api.coord([api.value(0), 0]),
                    api.coord([api.value(1), 0.5]),
                    api.coord([api.value(0), 1])
                ] },
                style: { fill: bar.colours[api.value(2)], stroke: inkColour, lineWidth: 1.2 }
            };
        }
    });
    series.push({
        type: 'custom', xAxisIndex: xIndex, yAxisIndex: yIndex, silent: true, clip: false, z: 4,
        data: [[low, high]].concat(bar.ticks.map(v => [v, v])),
        renderItem: function(params, api) {
            let a = api.coord([api.value(0), 0]);
            let b = api.coord([api.value(1), 1]);
            if (params.dataIndex === 0)
            {
                return {
                    type: 'rect',
                    shape: { x: a[0], y: b[1], width: b[0] - a[0], height: a[1] - b[1] },
                    style: { fill: 'none', stroke: '#333', lineWidth: 1.5 }
                };
            }
            return {
                type: 'line',
                shape: { x1: a[0], y1: a[1], x2: b[0], y2: b[1] },
                style: { stroke: inkColour, lineWidth: 1.5 }
            };
        }
    });
}

for (let i = 0; i < panelBoxes.length; i++)
{
    add_map(i);
}
barList.forEach(add_colourbar);

let myChart = echarts.init(document.getElementById('chart'));
myChart.setOption({
    animation: false,
    backgroundColor: '#fff',
    grid: grids,
    xAxis: xAxes,
    yAxis: yAxes,
    series: series
});
</script>
</body>
</html>
